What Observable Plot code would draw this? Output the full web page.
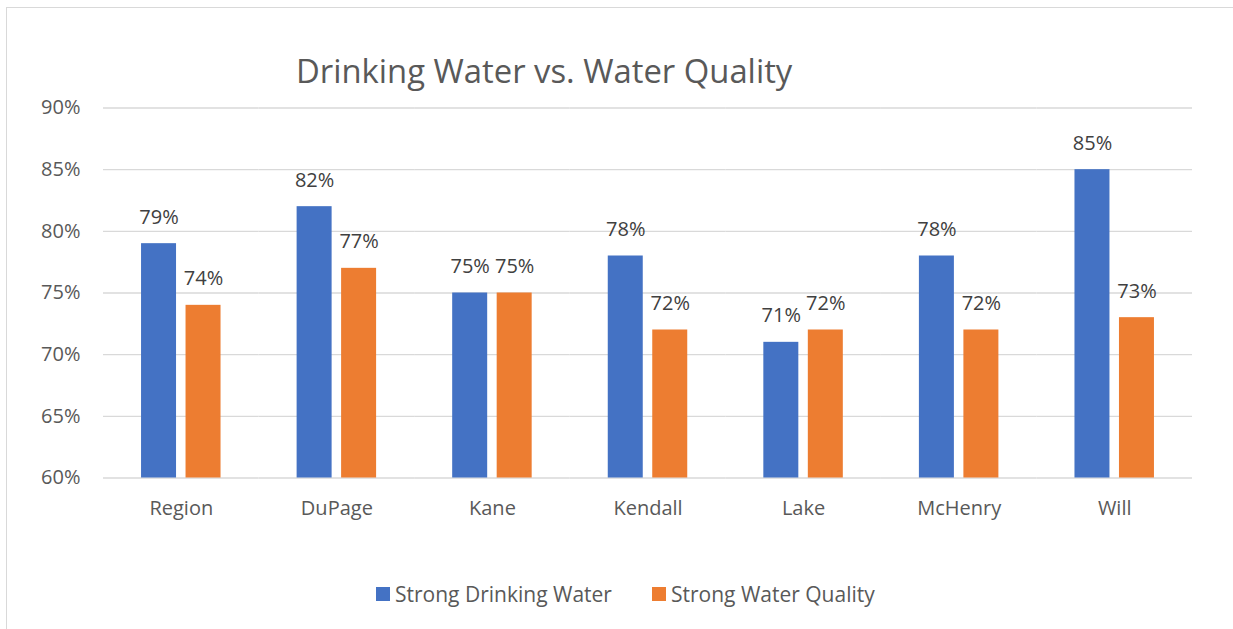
<!DOCTYPE html>
<html>
<head>
<meta charset="utf-8">
<script src="https://cdn.jsdelivr.net/npm/d3@7"></script>
<script src="https://cdn.jsdelivr.net/npm/@observablehq/plot@0.6"></script>
<style>
  html, body { margin: 0; padding: 0; background: white; }
  #wrap { position: relative; width: 1233px; height: 629px; overflow: hidden; font-family: "Open Sans", sans-serif; }
  #frame { position: absolute; left: 6px; top: 7px; width: 1300px; height: 700px; border: 1.3px solid #d9d9d9; box-sizing: border-box; }
  #title { position: absolute; left: 296px; top: 51px; font-size: 32.8px; line-height: 40px; color: #595959; white-space: nowrap; }
  #legend { position: absolute; left: 376px; top: 580px; font-size: 21px; line-height: 28px; color: #595959; display: flex; align-items: center; white-space: nowrap; }
  .sw { display: inline-block; width: 14px; height: 14px; margin-right: 5px; }
  .item { display: inline-flex; align-items: center; margin-right: 40px; }
  #chart { position: absolute; left: 0; top: 0; }
</style>
</head>
<body>
<div id="wrap">
  <div id="frame"></div>
  <div id="chart"></div>
  <div id="title">Drinking Water vs. Water Quality</div>
  <div id="legend"></div>
</div>
<script>
const categories = ["Region", "DuPage", "Kane", "Kendall", "Lake", "McHenry", "Will"];
const drinking = [79, 82, 75, 78, 71, 78, 85];
const quality = [74, 77, 75, 72, 72, 72, 73];
const seriesNames = ["Strong Drinking Water", "Strong Water Quality"];
const colors = ["#4472C4", "#ED7D31"];
const yTicks = [60, 65, 70, 75, 80, 85, 90];

const data = categories.flatMap((c, i) => [
  {cat: c, series: seriesNames[0], value: drinking[i]},
  {cat: c, series: seriesNames[1], value: quality[i]}
]);

const chart = Plot.plot({
  width: 1233,
  height: 629,
  marginLeft: 103,
  marginRight: 41,
  marginTop: 107.5,
  marginBottom: 151.5,
  style: {fontFamily: "Open Sans, sans-serif", fontSize: "20px", color: "#595959", background: "transparent"},
  fx: {domain: categories, padding: 0, label: null, round: false},
  x: {domain: seriesNames, paddingInner: 0.2135, paddingOuter: 0.855, axis: null, round: false},
  y: {domain: [60, 90], label: null},
  color: {domain: seriesNames, range: colors},
  marks: [
    Plot.gridY(yTicks, {stroke: "#d9d9d9", strokeOpacity: 1, strokeWidth: 1.3}),
    Plot.axisY(yTicks, {tickSize: 0, tickPadding: 23, tickFormat: d => d + "%", label: null, fontSize: 20}),
    Plot.axisFx({anchor: "bottom", tickSize: 0, tickPadding: 23, label: null, fontSize: 20}),
    Plot.barY(data, {fx: "cat", x: "series", y1: 60, y2: "value", fill: "series"}),
    Plot.text(data, {fx: "cat", x: "series", y: "value", text: d => d.value + "%", dy: -20, lineAnchor: "bottom", fill: "#404040", fontSize: 20})
  ]
});
document.getElementById("chart").appendChild(chart);

const legend = document.getElementById("legend");
seriesNames.forEach((s, i) => {
  const item = document.createElement("span");
  item.className = "item";
  const sw = document.createElement("span");
  sw.className = "sw";
  sw.style.background = colors[i];
  item.appendChild(sw);
  item.appendChild(document.createTextNode(s));
  legend.appendChild(item);
});
</script>
</body>
</html>
